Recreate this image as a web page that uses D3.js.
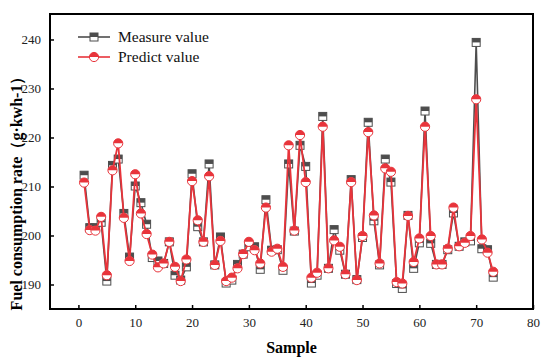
<!DOCTYPE html>
<meta charset="utf-8">
<script src="https://d3js.org/d3.v7.min.js"></script>
<style>
  body { margin: 0; background: #fff; }
  svg text { font-family: "Liberation Serif", "Times New Roman", "DejaVu Serif", serif; }
</style>
<div id="my_dataviz"></div>
<script>

// data
var samples = d3.range(1, 74);
var measure = [212.3, 201.6, 201.6, 202.7, 190.7, 214.3, 215.6, 204.5, 195.6, 210.1,
               206.7, 202.3, 195.5, 194.8, 194.3, 198.7, 191.9, 190.9, 193.6, 212.6,
               201.8, 198.7, 214.6, 194.0, 199.7, 190.3, 190.9, 194.1, 196.2, 197.7,
               197.7, 193.1, 207.3, 197.0, 197.1, 192.9, 214.6, 200.9, 218.4, 214.1,
               190.3, 191.9, 224.3, 193.3, 201.2, 197.0, 192.1, 211.4, 191.0, 199.6,
               223.1, 203.0, 194.0, 215.6, 210.9, 190.2, 189.2, 204.1, 193.3, 198.5,
               225.4, 198.4, 194.1, 194.1, 197.1, 204.6, 197.8, 198.7, 198.9, 239.4,
               197.3, 197.1, 191.5];
var predict = [210.8, 201.1, 201.0, 203.8, 191.9, 213.3, 218.8, 203.6, 194.8, 212.5,
               204.5, 200.3, 196.1, 193.5, 194.3, 198.7, 193.6, 190.7, 195.1, 211.1,
               203.1, 198.7, 212.1, 194.0, 198.9, 190.7, 191.4, 193.3, 196.2, 198.7,
               197.0, 194.3, 205.7, 196.7, 197.3, 193.6, 218.4, 201.0, 220.5, 210.9,
               191.4, 192.4, 222.2, 193.3, 199.0, 197.7, 192.1, 210.9, 190.9, 199.9,
               221.1, 204.1, 194.3, 213.7, 213.0, 190.5, 190.2, 204.0, 194.6, 199.4,
               222.2, 199.9, 194.1, 194.1, 197.3, 205.7, 197.8, 198.5, 199.9, 227.8,
               199.2, 196.5, 192.6];
var xTicks = [0, 10, 20, 30, 40, 50, 60, 70, 80];
var yTicks = [190, 200, 210, 220, 230, 240];

var grey = "#4d4d4d", red = "#e8343b";
var serif = "'Liberation Serif', 'Times New Roman', 'DejaVu Serif', serif";

var margin = {top: 14, right: 18, bottom: 52, left: 50},
    width = 551 - margin.left - margin.right,
    height = 361 - margin.top - margin.bottom;

var svg = d3.select("#my_dataviz")
  .append("svg")
    .attr("width", 551)
    .attr("height", 361)
  .append("g")
    .attr("transform", "translate(" + margin.left + "," + margin.top + ")");

var x = d3.scaleLinear().domain([-5, 80]).range([0, width]);
var y = d3.scaleLinear().domain([185, 245.2]).range([height, 0]);

// axes, ticks pointing inside
svg.append("g")
    .attr("transform", "translate(0," + height + ")")
    .call(d3.axisBottom(x).tickValues(xTicks).tickSize(-4).tickPadding(9))
    .call(function(g) { g.select(".domain").remove(); });
svg.append("g")
    .call(d3.axisLeft(y).tickValues(yTicks).tickSize(-4).tickPadding(9))
    .call(function(g) { g.select(".domain").remove(); });
svg.selectAll(".tick text")
    .attr("font-family", null).attr("font-size", null)
    .style("font-family", serif).style("font-size", "13px").attr("fill", "#222");
svg.selectAll(".tick line").attr("stroke", "#000").attr("stroke-width", 1.5);

// frame
svg.append("rect")
    .attr("width", width).attr("height", height)
    .attr("fill", "none").attr("stroke", "#000").attr("stroke-width", 2);

var line = function(vals) {
  return d3.line().x(function(d, i) { return x(samples[i]); }).y(function(d) { return y(d); })(vals);
};

// half filled markers
function square(g, cx, cy) {
  var s = 4;
  g.append("rect").attr("x", cx - s).attr("y", cy - s).attr("width", 2 * s).attr("height", 2 * s)
    .attr("fill", "#fff").attr("stroke", grey).attr("stroke-width", 1);
  g.append("rect").attr("x", cx - s).attr("y", cy - s).attr("width", 2 * s).attr("height", s)
    .attr("fill", grey);
}
function circle(g, cx, cy) {
  var r = 4.6;
  g.append("circle").attr("cx", cx).attr("cy", cy).attr("r", r)
    .attr("fill", "#fff").attr("stroke", red).attr("stroke-width", 1);
  g.append("path")
    .attr("d", "M" + (cx - r) + "," + cy + "A" + r + "," + r + " 0 0 1 " + (cx + r) + "," + cy + "Z")
    .attr("fill", red);
}

svg.append("path").attr("d", line(measure))
    .attr("fill", "none").attr("stroke", grey).attr("stroke-width", 1.6);
var gm = svg.append("g");
measure.forEach(function(d, i) { square(gm, x(samples[i]), y(d)); });

svg.append("path").attr("d", line(predict))
    .attr("fill", "none").attr("stroke", red).attr("stroke-width", 1.8);
var gp = svg.append("g");
predict.forEach(function(d, i) { circle(gp, x(samples[i]), y(d)); });

// legend
var legend = [{name: "Measure value", color: grey, mark: square},
              {name: "Predict value", color: red, mark: circle}];
legend.forEach(function(d, i) {
  var ly = 23 + i * 20;
  svg.append("line").attr("x1", 28).attr("x2", 60).attr("y1", ly).attr("y2", ly)
      .attr("stroke", d.color).attr("stroke-width", 1.6);
  d.mark(svg, 44, ly);
  svg.append("text").attr("x", 68).attr("y", ly).attr("dy", "0.35em")
      .style("font-family", serif).style("font-size", "15.5px")
      .attr("fill", "#111").text(d.name);
});

// axis titles
svg.append("text")
    .attr("x", width / 2).attr("y", height + 44)
    .style("text-anchor", "middle")
    .style("font-family", serif).style("font-size", "16px").style("font-weight", "bold")
    .text("Sample");
svg.append("text")
    .attr("transform", "rotate(-90)")
    .attr("x", -(height / 2) - 28).attr("y", -28)
    .style("text-anchor", "middle")
    .style("font-family", serif).style("font-size", "16px").style("font-weight", "bold")
    .text("Fuel consumption rate（g·kwh-1）");

</script>
